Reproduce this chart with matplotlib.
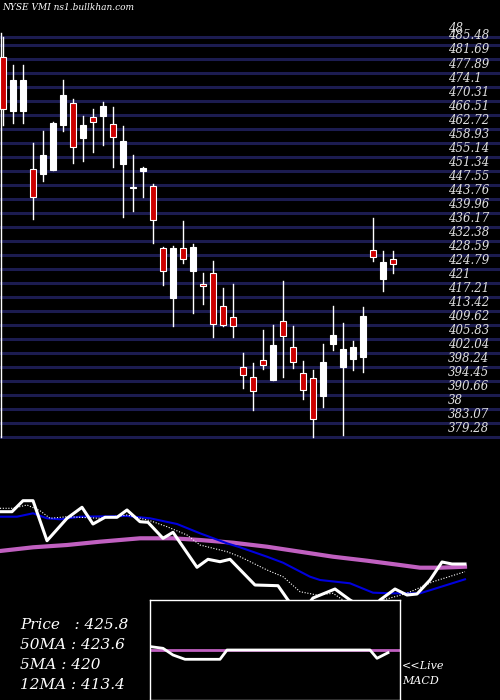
import matplotlib
matplotlib.use("Agg")
import matplotlib.pyplot as plt
from matplotlib.patches import Rectangle

opens  = [482.2,467.5,467.5,451.7,450.5,451.6,463.7,469.6,460.3,465.8,466.3,463.9,453.3,446.6,451.4,447.2,430.4,417.0,430.4,424.1,
          420.8,423.8,414.8,411.7,398.1,395.4,400.0,394.7,410.8,403.7,396.5,395.2,390.5,404.4,398.3,400.3,401.0,429.9,422.1,427.4]
highs  = [487.6,480.0,480.0,458.8,462.1,464.6,475.9,470.7,466.2,468.0,470.0,468.5,463.5,455.6,452.5,447.8,430.6,431.0,437.8,431.4,
          423.6,426.9,419.5,420.7,401.9,399.2,408.2,409.6,421.5,409.3,399.9,397.3,404.5,414.7,410.2,405.3,414.6,438.7,429.5,429.7]
lows   = [463.7,464.4,464.4,438.3,448.6,451.6,462.0,453.4,454.1,456.3,458.2,452.5,438.9,440.5,444.3,431.7,420.3,409.4,426.3,412.9,
          415.3,406.3,409.2,406.3,392.6,386.6,397.8,394.7,395.4,397.9,389.5,379.3,387.5,402.7,379.8,397.3,397.0,427.0,418.9,423.8]
closes = [468.0,475.9,475.9,444.3,455.6,464.2,471.9,457.7,463.7,464.5,468.9,460.4,459.4,447.0,452.0,437.9,424.3,430.4,427.6,430.6,
          420.1,409.8,409.5,409.3,396.0,391.7,398.7,404.2,406.6,399.5,392.0,384.2,399.5,406.9,403.0,403.6,412.0,427.9,426.7,426.1]

grid_vals = [487.6,485.48,481.69,477.89,474.1,470.31,466.51,462.72,458.93,455.14,451.34,447.55,443.76,439.96,436.17,432.38,
             428.59,424.79,421,417.21,413.42,409.62,405.83,402.04,398.24,394.45,390.66,386.87,383.07,379.28]
grid_lbls = ["48","485.48","481.69","477.89","474.1","470.31","466.51","462.72","458.93","455.14","451.34","447.55","443.76",
             "439.96","436.17","432.38","428.59","424.79","421","417.21","413.42","409.62","405.83","402.04","398.24","394.45",
             "390.66","38","383.07","379.28"]

price_x = [-0.3,0.9,2,3,4.4,6.4,7.9,9,10.2,11.4,12.4,13.7,14.5,16,17,19.4,20.5,21.7,22.7,25.2,27.5,28.5,29.7,31,33.2,34.7,36.7,37.7,39.2,40.4,41.4,42.7,43.9,44.9,46.2]
price_v = [98.3,98.3,109.3,109.3,69.3,91.7,102.7,86,92.7,92.7,100,88.3,87.7,71.7,77.7,42.7,50.7,48.3,50.7,25,24.3,10,-5,12,21,10,-2,10,21,15,16,30,48,46,46]
ma12_x = [-0.3,1.4,3,4.4,5.7,7.7,12.4,14.7,17.4,19.7,22.4,23.7,26.4,28,30.7,31.7,34.7,37,39,41.7,43,46.2]
ma12_v = [93.3,93.3,96.7,91.7,90.7,93.3,94,91.7,86,76.7,66.7,62.7,53.3,47.3,33.3,30,26.7,17.3,16.7,16.7,20.7,30.7]
ma50_x = [-0.3,3,6.4,9.7,13.7,17,19.7,23,26.4,29.7,33,36.4,39.7,41.7,43.7,46.2]
ma50_v = [59,62.7,65,68.3,71.7,71.7,70,67.3,63.3,58.3,53.3,49.3,45,42.3,42.3,43.3]
ma5_x = [-0.3,1,2.4,3.7,4.7,6.4,9.7,12.4,14.7,16.4,18.4,19.7,22.4,23.7,26.4,28,29.7,31.4,33,35.5,38,40.4,43,46.2]
ma5_v = [101.7,101.7,105,99.3,91.7,93.3,91.7,95,89.3,83.3,75,65,58.3,53.3,40,33.3,18.3,15,16.7,0,10,16.7,28.3,38.3]
macd_x = [14.8,16,17,18.2,19.7,21.7,22.4,36.7,37.4,38.5]
macd_v = [3.3,1.7,-5,-9.3,-9.3,-9.3,0,0,-8.3,-2.7]
info = ["Price   : 425.8", "50MA : 423.6", "5MA : 420", "12MA : 413.4"]

W, H = 500, 700
fig = plt.figure(figsize=(5, 7), dpi=100, facecolor="black")
serif = dict(family="DejaVu Serif", style="italic")

# main price axes: pixel rows 20..450
ax = fig.add_axes([0, 1 - 450 / H, 1, 430 / H], facecolor="black")
ax.set_xlim(-0.3, 49.7)
ppx = 3.79 / 14
ax.set_ylim(379.28 - 13 * ppx, 379.28 + 417 * ppx)
ax.axis("off")
for v, lb in zip(grid_vals, grid_lbls):
    ax.axhline(v, color="#1c1c50", lw=2.2, zorder=1)
    ax.text(44.5, v + 0.6, lb, color="#e0e0e0", fontsize=8.5, va="bottom", ha="left", zorder=5, **serif)
for i, (o, h, l, c) in enumerate(zip(opens, highs, lows, closes)):
    up = c >= o
    ax.plot([i, i], [l, h], color="white", lw=1, zorder=2)
    b0, b1 = min(o, c), max(o, c)
    ax.add_patch(Rectangle((i - 0.33, b0), 0.66, max(b1 - b0, 0.4),
                           facecolor="white" if up else "#cc0000", edgecolor="white", lw=0.8, zorder=3))
ax.axvline(-0.2, ymin=0.03, ymax=0.97, color="white", lw=1)
fig.text(2 / W, 1 - 8 / H, "NYSE VMI ns1.bullkhan.com", color="white", fontsize=6.5, va="center", **serif)

# lower indicator axes: pixel rows 490..700
bx = fig.add_axes([0, 0, 1, 210 / H], facecolor="black")
bx.set_xlim(-0.3, 49.7)
bx.set_ylim(-90, 120)
bx.axis("off")
bx.plot(ma50_x, ma50_v, color="#c060c0", lw=3)
bx.plot(ma12_x, ma12_v, color="#0000dd", lw=1.5)
bx.plot(ma5_x, ma5_v, color="white", lw=0.8, ls=(0, (1, 1.5)))
bx.plot(price_x, price_v, color="white", lw=2.2)

# MACD box: pixel x 150..400, y 600..700
mx = fig.add_axes([150 / W, 0, 250 / W, 100 / H], facecolor="black")
mx.set_xlim(14.7, 39.7)
mx.set_ylim(-50, 50)
mx.set_xticks([]); mx.set_yticks([])
for s in mx.spines.values():
    s.set_color("white"); s.set_linewidth(1)
mx.axhline(0, color="#c060c0", lw=2)
mx.plot(macd_x, macd_v, color="white", lw=2)

for k, t in enumerate(info):
    fig.text(20 / W, 1 - (625 + 20 * k) / H, t, color="white", fontsize=11, va="center", **serif)
fig.text(402 / W, 1 - 666 / H, "<<Live", color="white", fontsize=8, va="center", **serif)
fig.text(402 / W, 1 - 681 / H, "MACD", color="white", fontsize=8, va="center", **serif)

fig.savefig("out.png", dpi=100, facecolor="black")
